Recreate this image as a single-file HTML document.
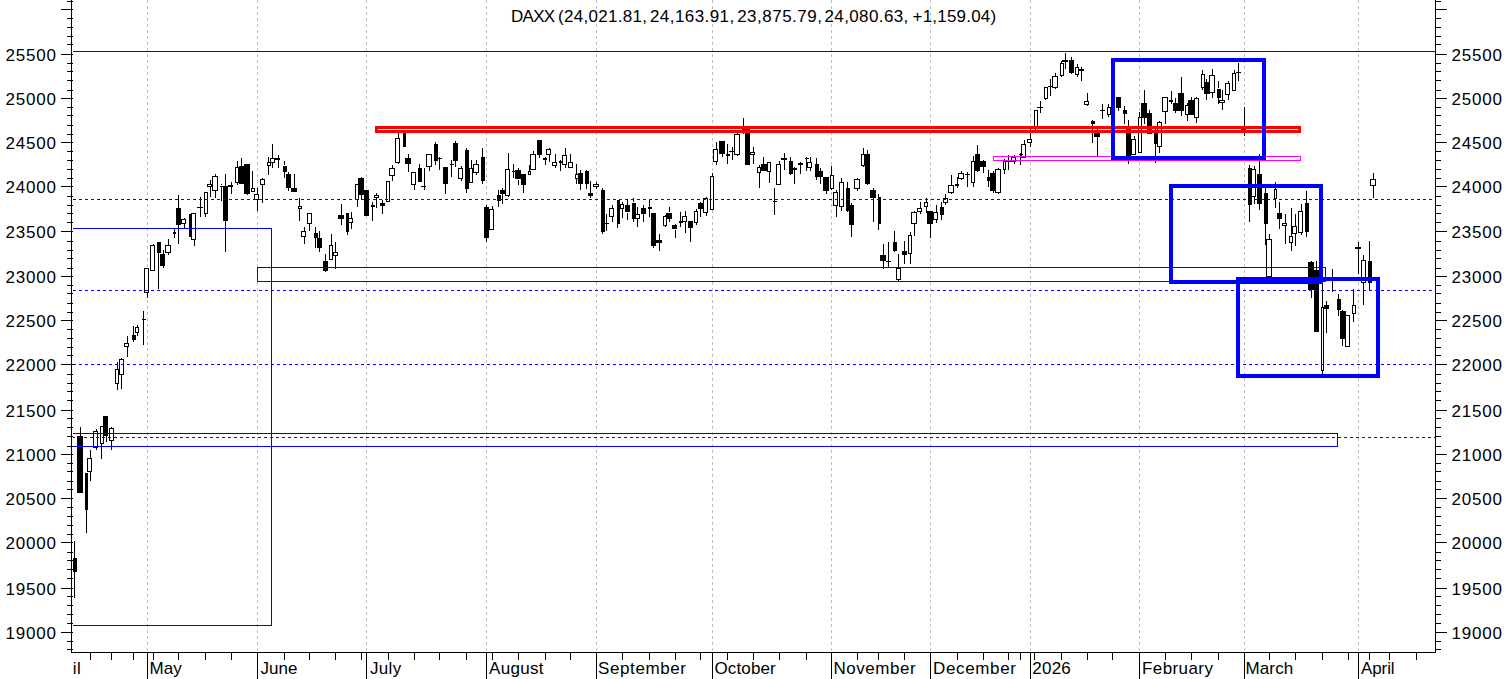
<!DOCTYPE html><html><head><meta charset="utf-8"><title>DAXX</title>
<style>html,body{margin:0;padding:0;background:#fff;overflow:hidden}svg{display:block;position:absolute;left:0;top:0}text{font-family:"Liberation Sans",sans-serif;font-size:17px;fill:#000}</style></head><body>
<svg width="1506" height="679" viewBox="0 0 1506 679" shape-rendering="crispEdges">
<rect x="0" y="0" width="1506" height="679" fill="#fff"/>
<line x1="147.5" y1="0" x2="147.5" y2="652" stroke="#c0c0c0" stroke-width="1" stroke-dasharray="3 3"/>
<line x1="257.5" y1="0" x2="257.5" y2="652" stroke="#c0c0c0" stroke-width="1" stroke-dasharray="3 3"/>
<line x1="366.5" y1="0" x2="366.5" y2="652" stroke="#c0c0c0" stroke-width="1" stroke-dasharray="3 3"/>
<line x1="486.5" y1="0" x2="486.5" y2="652" stroke="#c0c0c0" stroke-width="1" stroke-dasharray="3 3"/>
<line x1="596.5" y1="0" x2="596.5" y2="652" stroke="#c0c0c0" stroke-width="1" stroke-dasharray="3 3"/>
<line x1="712.5" y1="0" x2="712.5" y2="652" stroke="#c0c0c0" stroke-width="1" stroke-dasharray="3 3"/>
<line x1="831.5" y1="0" x2="831.5" y2="652" stroke="#c0c0c0" stroke-width="1" stroke-dasharray="3 3"/>
<line x1="930.5" y1="0" x2="930.5" y2="652" stroke="#c0c0c0" stroke-width="1" stroke-dasharray="3 3"/>
<line x1="1030.5" y1="0" x2="1030.5" y2="652" stroke="#c0c0c0" stroke-width="1" stroke-dasharray="3 3"/>
<line x1="1139.5" y1="0" x2="1139.5" y2="652" stroke="#c0c0c0" stroke-width="1" stroke-dasharray="3 3"/>
<line x1="1244.5" y1="0" x2="1244.5" y2="652" stroke="#c0c0c0" stroke-width="1" stroke-dasharray="3 3"/>
<line x1="1358.5" y1="0" x2="1358.5" y2="652" stroke="#c0c0c0" stroke-width="1" stroke-dasharray="3 3"/>
<g id="candles">
<rect x="74" y="541" width="1" height="57" fill="#000"/><rect x="73" y="558" width="4" height="14" fill="#000"/>
<rect x="80" y="427" width="1" height="66" fill="#000"/><rect x="77" y="436" width="6" height="57" fill="#000"/>
<rect x="86" y="473" width="1" height="60" fill="#000"/><rect x="85" y="473" width="3" height="37" fill="#000"/>
<rect x="90" y="450" width="1" height="31" fill="#000"/><rect x="87" y="458" width="5" height="14" fill="#000"/><rect x="88" y="459" width="3" height="12" fill="#fff"/>
<rect x="96" y="429" width="1" height="21" fill="#000"/><rect x="93" y="431" width="5" height="17" fill="#000"/><rect x="94" y="432" width="3" height="15" fill="#fff"/>
<rect x="101" y="426" width="1" height="33" fill="#000"/><rect x="100" y="426" width="4" height="18" fill="#000"/><rect x="101" y="427" width="2" height="16" fill="#fff"/>
<rect x="106" y="416" width="1" height="26" fill="#000"/><rect x="103" y="416" width="5" height="20" fill="#000"/>
<rect x="111" y="427" width="1" height="23" fill="#000"/><rect x="109" y="428" width="5" height="13" fill="#000"/><rect x="110" y="429" width="3" height="11" fill="#fff"/>
<rect x="117" y="362" width="1" height="28" fill="#000"/><rect x="115" y="369" width="4" height="15" fill="#000"/><rect x="116" y="370" width="2" height="13" fill="#fff"/>
<rect x="121" y="358" width="1" height="31" fill="#000"/><rect x="119" y="359" width="5" height="16" fill="#000"/><rect x="120" y="360" width="3" height="14" fill="#fff"/>
<rect x="127" y="336" width="1" height="21" fill="#000"/><rect x="124" y="343" width="5" height="4" fill="#000"/><rect x="125" y="344" width="3" height="2" fill="#fff"/>
<rect x="133" y="326" width="1" height="16" fill="#000"/><rect x="132" y="335" width="4" height="5" fill="#000"/>
<rect x="137" y="325" width="1" height="11" fill="#000"/><rect x="135" y="327" width="4" height="6" fill="#000"/><rect x="136" y="328" width="2" height="4" fill="#fff"/>
<rect x="143" y="311" width="1" height="34" fill="#000"/><rect x="142" y="319" width="4" height="1" fill="#000"/>
<rect x="147" y="268" width="1" height="30" fill="#000"/><rect x="144" y="268" width="5" height="25" fill="#000"/><rect x="145" y="269" width="3" height="23" fill="#fff"/>
<rect x="153" y="244" width="1" height="27" fill="#000"/><rect x="150" y="245" width="5" height="26" fill="#000"/><rect x="151" y="246" width="3" height="24" fill="#fff"/>
<rect x="158" y="242" width="1" height="47" fill="#000"/><rect x="157" y="242" width="4" height="11" fill="#000"/>
<rect x="163" y="250" width="1" height="18" fill="#000"/><rect x="160" y="254" width="5" height="12" fill="#000"/>
<rect x="168" y="239" width="1" height="16" fill="#000"/><rect x="165" y="245" width="6" height="8" fill="#000"/><rect x="166" y="246" width="4" height="6" fill="#fff"/>
<rect x="174" y="229" width="1" height="9" fill="#000"/><rect x="173" y="232" width="3" height="2" fill="#000"/>
<rect x="178" y="195" width="1" height="49" fill="#000"/><rect x="176" y="208" width="5" height="17" fill="#000"/>
<rect x="184" y="218" width="1" height="10" fill="#000"/><rect x="181" y="219" width="5" height="5" fill="#000"/><rect x="182" y="220" width="3" height="3" fill="#fff"/>
<rect x="190" y="214" width="1" height="23" fill="#000"/><rect x="189" y="214" width="4" height="23" fill="#000"/>
<rect x="194" y="213" width="1" height="33" fill="#000"/><rect x="191" y="213" width="5" height="27" fill="#000"/><rect x="192" y="214" width="3" height="25" fill="#fff"/>
<rect x="200" y="197" width="1" height="20" fill="#000"/><rect x="197" y="207" width="6" height="1" fill="#000"/>
<rect x="205" y="192" width="1" height="25" fill="#000"/><rect x="204" y="192" width="4" height="22" fill="#000"/><rect x="205" y="193" width="2" height="20" fill="#fff"/>
<rect x="210" y="180" width="1" height="17" fill="#000"/><rect x="207" y="184" width="5" height="3" fill="#000"/><rect x="208" y="185" width="3" height="1" fill="#fff"/>
<rect x="215" y="174" width="1" height="24" fill="#000"/><rect x="212" y="176" width="6" height="15" fill="#000"/><rect x="213" y="177" width="4" height="13" fill="#fff"/>
<rect x="221" y="184" width="1" height="17" fill="#000"/><rect x="220" y="186" width="3" height="1" fill="#000"/>
<rect x="225" y="174" width="1" height="78" fill="#000"/><rect x="223" y="186" width="5" height="35" fill="#000"/>
<rect x="231" y="182" width="1" height="12" fill="#000"/><rect x="228" y="185" width="5" height="2" fill="#000"/>
<rect x="237" y="161" width="1" height="24" fill="#000"/><rect x="235" y="167" width="4" height="16" fill="#000"/><rect x="236" y="168" width="2" height="14" fill="#fff"/>
<rect x="241" y="158" width="1" height="26" fill="#000"/><rect x="239" y="166" width="5" height="18" fill="#000"/>
<rect x="247" y="164" width="1" height="31" fill="#000"/><rect x="244" y="164" width="6" height="30" fill="#000"/>
<rect x="252" y="171" width="1" height="21" fill="#000"/><rect x="251" y="188" width="4" height="4" fill="#000"/><rect x="252" y="189" width="2" height="2" fill="#fff"/>
<rect x="257" y="188" width="1" height="23" fill="#000"/><rect x="254" y="194" width="5" height="6" fill="#000"/><rect x="255" y="195" width="3" height="4" fill="#fff"/>
<rect x="262" y="178" width="1" height="25" fill="#000"/><rect x="260" y="179" width="5" height="6" fill="#000"/><rect x="261" y="180" width="3" height="4" fill="#fff"/>
<rect x="268" y="157" width="1" height="18" fill="#000"/><rect x="267" y="162" width="4" height="4" fill="#000"/><rect x="268" y="163" width="2" height="2" fill="#fff"/>
<rect x="272" y="144" width="1" height="24" fill="#000"/><rect x="270" y="158" width="5" height="5" fill="#000"/><rect x="271" y="159" width="3" height="3" fill="#fff"/>
<rect x="278" y="155" width="1" height="13" fill="#000"/><rect x="275" y="158" width="5" height="2" fill="#000"/>
<rect x="284" y="161" width="1" height="17" fill="#000"/><rect x="283" y="166" width="4" height="6" fill="#000"/>
<rect x="288" y="172" width="1" height="19" fill="#000"/><rect x="286" y="174" width="5" height="14" fill="#000"/>
<rect x="294" y="174" width="1" height="18" fill="#000"/><rect x="291" y="188" width="6" height="4" fill="#000"/>
<rect x="299" y="198" width="1" height="23" fill="#000"/><rect x="298" y="206" width="4" height="3" fill="#000"/><rect x="299" y="207" width="2" height="1" fill="#fff"/>
<rect x="304" y="227" width="1" height="17" fill="#000"/><rect x="301" y="231" width="5" height="6" fill="#000"/><rect x="302" y="232" width="3" height="4" fill="#fff"/>
<rect x="309" y="213" width="1" height="18" fill="#000"/><rect x="307" y="213" width="5" height="11" fill="#000"/><rect x="308" y="214" width="3" height="9" fill="#fff"/>
<rect x="315" y="227" width="1" height="21" fill="#000"/><rect x="314" y="233" width="4" height="5" fill="#000"/>
<rect x="319" y="231" width="1" height="21" fill="#000"/><rect x="317" y="238" width="5" height="10" fill="#000"/>
<rect x="325" y="254" width="1" height="18" fill="#000"/><rect x="323" y="261" width="5" height="10" fill="#000"/>
<rect x="331" y="234" width="1" height="26" fill="#000"/><rect x="329" y="245" width="4" height="15" fill="#000"/><rect x="330" y="246" width="2" height="13" fill="#fff"/>
<rect x="335" y="242" width="1" height="27" fill="#000"/><rect x="333" y="252" width="5" height="4" fill="#000"/><rect x="334" y="253" width="3" height="2" fill="#fff"/>
<rect x="341" y="204" width="1" height="21" fill="#000"/><rect x="338" y="215" width="6" height="4" fill="#000"/>
<rect x="347" y="213" width="1" height="22" fill="#000"/><rect x="346" y="213" width="3" height="19" fill="#000"/>
<rect x="351" y="212" width="1" height="17" fill="#000"/><rect x="348" y="218" width="5" height="5" fill="#000"/><rect x="349" y="219" width="3" height="3" fill="#fff"/>
<rect x="357" y="184" width="1" height="23" fill="#000"/><rect x="355" y="184" width="4" height="16" fill="#000"/><rect x="356" y="185" width="2" height="14" fill="#fff"/>
<rect x="361" y="177" width="1" height="23" fill="#000"/><rect x="358" y="178" width="6" height="17" fill="#000"/>
<rect x="366" y="190" width="1" height="26" fill="#000"/><rect x="364" y="190" width="5" height="26" fill="#000"/>
<rect x="372" y="202" width="1" height="19" fill="#000"/><rect x="371" y="205" width="4" height="2" fill="#000"/>
<rect x="376" y="193" width="1" height="15" fill="#000"/><rect x="374" y="195" width="5" height="3" fill="#000"/><rect x="375" y="196" width="3" height="1" fill="#fff"/>
<rect x="382" y="200" width="1" height="14" fill="#000"/><rect x="380" y="203" width="5" height="3" fill="#000"/>
<rect x="388" y="181" width="1" height="21" fill="#000"/><rect x="386" y="181" width="4" height="21" fill="#000"/><rect x="387" y="182" width="2" height="19" fill="#fff"/>
<rect x="392" y="165" width="1" height="16" fill="#000"/><rect x="389" y="168" width="6" height="8" fill="#000"/><rect x="390" y="169" width="4" height="6" fill="#fff"/>
<rect x="398" y="131" width="1" height="33" fill="#000"/><rect x="395" y="138" width="5" height="25" fill="#000"/><rect x="396" y="139" width="3" height="23" fill="#fff"/>
<rect x="404" y="131" width="1" height="16" fill="#000"/><rect x="403" y="131" width="3" height="16" fill="#000"/>
<rect x="408" y="154" width="1" height="18" fill="#000"/><rect x="405" y="158" width="6" height="6" fill="#000"/>
<rect x="414" y="172" width="1" height="18" fill="#000"/><rect x="411" y="172" width="5" height="13" fill="#000"/><rect x="412" y="173" width="3" height="11" fill="#fff"/>
<rect x="419" y="164" width="1" height="18" fill="#000"/><rect x="418" y="168" width="4" height="14" fill="#000"/>
<rect x="424" y="168" width="1" height="22" fill="#000"/><rect x="421" y="186" width="5" height="1" fill="#000"/>
<rect x="429" y="154" width="1" height="17" fill="#000"/><rect x="426" y="154" width="6" height="13" fill="#000"/><rect x="427" y="155" width="4" height="11" fill="#fff"/>
<rect x="435" y="142" width="1" height="23" fill="#000"/><rect x="434" y="144" width="4" height="17" fill="#000"/>
<rect x="439" y="157" width="1" height="13" fill="#000"/><rect x="438" y="158" width="4" height="1" fill="#000"/>
<rect x="445" y="167" width="1" height="27" fill="#000"/><rect x="443" y="167" width="5" height="17" fill="#000"/>
<rect x="451" y="160" width="1" height="17" fill="#000"/><rect x="450" y="164" width="4" height="1" fill="#000"/>
<rect x="455" y="141" width="1" height="26" fill="#000"/><rect x="453" y="143" width="5" height="18" fill="#000"/>
<rect x="461" y="166" width="1" height="15" fill="#000"/><rect x="458" y="168" width="5" height="11" fill="#000"/><rect x="459" y="169" width="3" height="9" fill="#fff"/>
<rect x="466" y="148" width="1" height="45" fill="#000"/><rect x="465" y="150" width="4" height="39" fill="#000"/>
<rect x="471" y="160" width="1" height="23" fill="#000"/><rect x="469" y="168" width="4" height="15" fill="#000"/><rect x="470" y="169" width="2" height="13" fill="#fff"/>
<rect x="476" y="160" width="1" height="15" fill="#000"/><rect x="473" y="164" width="6" height="9" fill="#000"/><rect x="474" y="165" width="4" height="7" fill="#fff"/>
<rect x="482" y="148" width="1" height="36" fill="#000"/><rect x="481" y="157" width="4" height="24" fill="#000"/>
<rect x="486" y="205" width="1" height="37" fill="#000"/><rect x="484" y="207" width="5" height="31" fill="#000"/>
<rect x="492" y="206" width="1" height="24" fill="#000"/><rect x="489" y="209" width="5" height="21" fill="#000"/><rect x="490" y="210" width="3" height="19" fill="#fff"/>
<rect x="498" y="190" width="1" height="17" fill="#000"/><rect x="497" y="195" width="4" height="6" fill="#000"/>
<rect x="502" y="188" width="1" height="16" fill="#000"/><rect x="500" y="190" width="5" height="4" fill="#000"/>
<rect x="508" y="153" width="1" height="44" fill="#000"/><rect x="505" y="169" width="5" height="27" fill="#000"/><rect x="506" y="170" width="3" height="25" fill="#fff"/>
<rect x="513" y="164" width="1" height="14" fill="#000"/><rect x="512" y="171" width="4" height="1" fill="#000"/>
<rect x="518" y="168" width="1" height="17" fill="#000"/><rect x="515" y="170" width="6" height="9" fill="#000"/>
<rect x="523" y="174" width="1" height="19" fill="#000"/><rect x="521" y="174" width="5" height="11" fill="#000"/>
<rect x="529" y="165" width="1" height="10" fill="#000"/><rect x="528" y="171" width="3" height="4" fill="#000"/><rect x="529" y="172" width="1" height="2" fill="#fff"/>
<rect x="533" y="151" width="1" height="19" fill="#000"/><rect x="530" y="154" width="6" height="16" fill="#000"/><rect x="531" y="155" width="4" height="14" fill="#fff"/>
<rect x="539" y="140" width="1" height="18" fill="#000"/><rect x="537" y="140" width="5" height="15" fill="#000"/>
<rect x="545" y="157" width="1" height="8" fill="#000"/><rect x="543" y="158" width="4" height="2" fill="#000"/>
<rect x="549" y="148" width="1" height="14" fill="#000"/><rect x="546" y="149" width="5" height="6" fill="#000"/><rect x="547" y="150" width="3" height="4" fill="#fff"/>
<rect x="555" y="154" width="1" height="14" fill="#000"/><rect x="552" y="162" width="5" height="4" fill="#000"/><rect x="553" y="163" width="3" height="2" fill="#fff"/>
<rect x="560" y="160" width="1" height="11" fill="#000"/><rect x="559" y="161" width="3" height="2" fill="#000"/>
<rect x="565" y="148" width="1" height="20" fill="#000"/><rect x="562" y="155" width="5" height="10" fill="#000"/><rect x="563" y="156" width="3" height="8" fill="#fff"/>
<rect x="570" y="154" width="1" height="14" fill="#000"/><rect x="568" y="162" width="5" height="6" fill="#000"/><rect x="569" y="163" width="3" height="4" fill="#fff"/>
<rect x="576" y="164" width="1" height="20" fill="#000"/><rect x="575" y="174" width="4" height="5" fill="#000"/><rect x="576" y="175" width="2" height="3" fill="#fff"/>
<rect x="580" y="170" width="1" height="20" fill="#000"/><rect x="578" y="173" width="5" height="11" fill="#000"/>
<rect x="586" y="170" width="1" height="19" fill="#000"/><rect x="585" y="171" width="4" height="13" fill="#000"/>
<rect x="590" y="181" width="1" height="17" fill="#000"/><rect x="588" y="193" width="5" height="3" fill="#000"/>
<rect x="596" y="182" width="1" height="7" fill="#000"/><rect x="593" y="184" width="6" height="3" fill="#000"/><rect x="594" y="185" width="4" height="1" fill="#fff"/>
<rect x="602" y="188" width="1" height="46" fill="#000"/><rect x="601" y="190" width="4" height="42" fill="#000"/>
<rect x="606" y="214" width="1" height="17" fill="#000"/><rect x="605" y="223" width="4" height="1" fill="#000"/>
<rect x="612" y="205" width="1" height="17" fill="#000"/><rect x="609" y="208" width="5" height="9" fill="#000"/><rect x="610" y="209" width="3" height="7" fill="#fff"/>
<rect x="617" y="200" width="1" height="28" fill="#000"/><rect x="617" y="200" width="3" height="24" fill="#000"/>
<rect x="622" y="202" width="1" height="16" fill="#000"/><rect x="620" y="204" width="4" height="5" fill="#000"/><rect x="621" y="205" width="2" height="3" fill="#fff"/>
<rect x="627" y="199" width="1" height="21" fill="#000"/><rect x="625" y="205" width="5" height="7" fill="#000"/>
<rect x="633" y="198" width="1" height="24" fill="#000"/><rect x="632" y="203" width="4" height="16" fill="#000"/>
<rect x="637" y="207" width="1" height="20" fill="#000"/><rect x="635" y="214" width="5" height="5" fill="#000"/><rect x="636" y="215" width="3" height="3" fill="#fff"/>
<rect x="643" y="205" width="1" height="17" fill="#000"/><rect x="641" y="208" width="5" height="6" fill="#000"/>
<rect x="649" y="200" width="1" height="17" fill="#000"/><rect x="648" y="207" width="4" height="2" fill="#000"/>
<rect x="653" y="213" width="1" height="35" fill="#000"/><rect x="651" y="213" width="5" height="33" fill="#000"/>
<rect x="659" y="234" width="1" height="17" fill="#000"/><rect x="656" y="240" width="6" height="3" fill="#000"/>
<rect x="665" y="215" width="1" height="12" fill="#000"/><rect x="663" y="216" width="4" height="10" fill="#000"/><rect x="664" y="217" width="2" height="8" fill="#fff"/>
<rect x="669" y="207" width="1" height="15" fill="#000"/><rect x="666" y="213" width="6" height="6" fill="#000"/>
<rect x="675" y="224" width="1" height="14" fill="#000"/><rect x="672" y="225" width="5" height="4" fill="#000"/>
<rect x="680" y="212" width="1" height="15" fill="#000"/><rect x="679" y="221" width="4" height="2" fill="#000"/>
<rect x="685" y="211" width="1" height="22" fill="#000"/><rect x="682" y="216" width="5" height="6" fill="#000"/><rect x="683" y="217" width="3" height="4" fill="#fff"/>
<rect x="690" y="221" width="1" height="21" fill="#000"/><rect x="688" y="221" width="5" height="7" fill="#000"/>
<rect x="696" y="209" width="1" height="16" fill="#000"/><rect x="694" y="211" width="4" height="12" fill="#000"/><rect x="695" y="212" width="2" height="10" fill="#fff"/>
<rect x="700" y="202" width="1" height="15" fill="#000"/><rect x="698" y="203" width="6" height="6" fill="#000"/>
<rect x="706" y="197" width="1" height="19" fill="#000"/><rect x="703" y="198" width="5" height="15" fill="#000"/><rect x="704" y="199" width="3" height="13" fill="#fff"/>
<rect x="712" y="173" width="1" height="37" fill="#000"/><rect x="710" y="176" width="4" height="34" fill="#000"/><rect x="711" y="177" width="2" height="32" fill="#fff"/>
<rect x="716" y="142" width="1" height="23" fill="#000"/><rect x="713" y="149" width="5" height="13" fill="#000"/><rect x="714" y="150" width="3" height="11" fill="#fff"/>
<rect x="722" y="141" width="1" height="16" fill="#000"/><rect x="719" y="141" width="6" height="13" fill="#000"/>
<rect x="727" y="144" width="1" height="20" fill="#000"/><rect x="726" y="154" width="4" height="2" fill="#000"/>
<rect x="732" y="147" width="1" height="13" fill="#000"/><rect x="729" y="151" width="5" height="1" fill="#000"/>
<rect x="737" y="132" width="1" height="24" fill="#000"/><rect x="734" y="134" width="6" height="21" fill="#000"/><rect x="735" y="135" width="4" height="19" fill="#fff"/>
<rect x="743" y="118" width="1" height="16" fill="#000"/><rect x="742" y="127" width="4" height="4" fill="#000"/>
<rect x="747" y="128" width="1" height="37" fill="#000"/><rect x="745" y="128" width="5" height="37" fill="#000"/>
<rect x="753" y="147" width="1" height="17" fill="#000"/><rect x="750" y="152" width="5" height="3" fill="#000"/><rect x="751" y="153" width="3" height="1" fill="#fff"/>
<rect x="759" y="165" width="1" height="23" fill="#000"/><rect x="757" y="167" width="4" height="6" fill="#000"/><rect x="758" y="168" width="2" height="4" fill="#fff"/>
<rect x="763" y="157" width="1" height="14" fill="#000"/><rect x="761" y="164" width="6" height="7" fill="#000"/>
<rect x="769" y="162" width="1" height="21" fill="#000"/><rect x="767" y="162" width="4" height="10" fill="#000"/><rect x="768" y="163" width="2" height="8" fill="#fff"/>
<rect x="774" y="188" width="1" height="27" fill="#000"/><rect x="773" y="201" width="4" height="1" fill="#000"/>
<rect x="779" y="161" width="1" height="24" fill="#000"/><rect x="776" y="164" width="5" height="21" fill="#000"/><rect x="777" y="165" width="3" height="19" fill="#fff"/>
<rect x="784" y="153" width="1" height="17" fill="#000"/><rect x="781" y="158" width="6" height="2" fill="#000"/>
<rect x="790" y="157" width="1" height="18" fill="#000"/><rect x="789" y="161" width="4" height="13" fill="#000"/>
<rect x="794" y="167" width="1" height="17" fill="#000"/><rect x="793" y="168" width="4" height="2" fill="#000"/>
<rect x="800" y="162" width="1" height="12" fill="#000"/><rect x="798" y="163" width="5" height="2" fill="#000"/>
<rect x="806" y="157" width="1" height="14" fill="#000"/><rect x="805" y="158" width="4" height="1" fill="#000"/>
<rect x="810" y="157" width="1" height="14" fill="#000"/><rect x="807" y="162" width="5" height="6" fill="#000"/><rect x="808" y="163" width="3" height="4" fill="#fff"/>
<rect x="816" y="158" width="1" height="22" fill="#000"/><rect x="815" y="164" width="4" height="13" fill="#000"/>
<rect x="820" y="168" width="1" height="16" fill="#000"/><rect x="819" y="171" width="4" height="6" fill="#000"/>
<rect x="826" y="177" width="1" height="17" fill="#000"/><rect x="823" y="177" width="6" height="14" fill="#000"/>
<rect x="831" y="166" width="1" height="24" fill="#000"/><rect x="830" y="175" width="4" height="14" fill="#000"/><rect x="831" y="176" width="2" height="12" fill="#fff"/>
<rect x="836" y="190" width="1" height="27" fill="#000"/><rect x="833" y="192" width="5" height="14" fill="#000"/><rect x="834" y="193" width="3" height="12" fill="#fff"/>
<rect x="841" y="178" width="1" height="33" fill="#000"/><rect x="839" y="182" width="5" height="25" fill="#000"/><rect x="840" y="183" width="3" height="23" fill="#fff"/>
<rect x="847" y="182" width="1" height="30" fill="#000"/><rect x="846" y="188" width="4" height="23" fill="#000"/>
<rect x="851" y="203" width="1" height="34" fill="#000"/><rect x="849" y="205" width="5" height="20" fill="#000"/>
<rect x="857" y="178" width="1" height="13" fill="#000"/><rect x="854" y="179" width="6" height="10" fill="#000"/><rect x="855" y="180" width="4" height="8" fill="#fff"/>
<rect x="863" y="148" width="1" height="19" fill="#000"/><rect x="861" y="154" width="4" height="12" fill="#000"/><rect x="862" y="155" width="2" height="10" fill="#fff"/>
<rect x="867" y="150" width="1" height="35" fill="#000"/><rect x="865" y="154" width="5" height="30" fill="#000"/>
<rect x="873" y="188" width="1" height="34" fill="#000"/><rect x="870" y="190" width="6" height="8" fill="#000"/>
<rect x="878" y="194" width="1" height="36" fill="#000"/><rect x="878" y="197" width="3" height="27" fill="#000"/>
<rect x="883" y="244" width="1" height="25" fill="#000"/><rect x="880" y="255" width="6" height="6" fill="#000"/>
<rect x="888" y="242" width="1" height="26" fill="#000"/><rect x="886" y="261" width="5" height="1" fill="#000"/>
<rect x="894" y="231" width="1" height="21" fill="#000"/><rect x="893" y="242" width="4" height="9" fill="#000"/>
<rect x="898" y="254" width="1" height="27" fill="#000"/><rect x="896" y="268" width="5" height="12" fill="#000"/><rect x="897" y="269" width="3" height="10" fill="#fff"/>
<rect x="904" y="241" width="1" height="23" fill="#000"/><rect x="902" y="251" width="5" height="4" fill="#000"/>
<rect x="910" y="232" width="1" height="32" fill="#000"/><rect x="908" y="235" width="4" height="19" fill="#000"/><rect x="909" y="236" width="2" height="17" fill="#fff"/>
<rect x="914" y="211" width="1" height="25" fill="#000"/><rect x="911" y="212" width="6" height="12" fill="#000"/><rect x="912" y="213" width="4" height="10" fill="#fff"/>
<rect x="920" y="202" width="1" height="12" fill="#000"/><rect x="917" y="208" width="5" height="4" fill="#000"/><rect x="918" y="209" width="3" height="2" fill="#fff"/>
<rect x="926" y="198" width="1" height="15" fill="#000"/><rect x="924" y="202" width="4" height="5" fill="#000"/><rect x="925" y="203" width="2" height="3" fill="#fff"/>
<rect x="930" y="211" width="1" height="27" fill="#000"/><rect x="927" y="211" width="6" height="13" fill="#000"/>
<rect x="936" y="205" width="1" height="18" fill="#000"/><rect x="933" y="212" width="5" height="8" fill="#000"/><rect x="934" y="213" width="3" height="6" fill="#fff"/>
<rect x="941" y="202" width="1" height="18" fill="#000"/><rect x="940" y="207" width="4" height="8" fill="#000"/>
<rect x="945" y="194" width="1" height="11" fill="#000"/><rect x="943" y="198" width="5" height="5" fill="#000"/><rect x="944" y="199" width="3" height="3" fill="#fff"/>
<rect x="951" y="175" width="1" height="19" fill="#000"/><rect x="948" y="185" width="6" height="8" fill="#000"/><rect x="949" y="186" width="4" height="6" fill="#fff"/>
<rect x="957" y="177" width="1" height="11" fill="#000"/><rect x="955" y="184" width="4" height="2" fill="#000"/>
<rect x="961" y="171" width="1" height="9" fill="#000"/><rect x="958" y="173" width="6" height="6" fill="#000"/><rect x="959" y="174" width="4" height="4" fill="#fff"/>
<rect x="967" y="172" width="1" height="15" fill="#000"/><rect x="965" y="174" width="5" height="1" fill="#000"/>
<rect x="973" y="156" width="1" height="31" fill="#000"/><rect x="971" y="161" width="4" height="22" fill="#000"/><rect x="972" y="162" width="2" height="20" fill="#fff"/>
<rect x="977" y="145" width="1" height="27" fill="#000"/><rect x="975" y="154" width="5" height="17" fill="#000"/>
<rect x="983" y="160" width="1" height="13" fill="#000"/><rect x="980" y="161" width="6" height="6" fill="#000"/>
<rect x="988" y="170" width="1" height="17" fill="#000"/><rect x="987" y="177" width="4" height="4" fill="#000"/>
<rect x="993" y="171" width="1" height="22" fill="#000"/><rect x="990" y="173" width="5" height="18" fill="#000"/>
<rect x="998" y="168" width="1" height="26" fill="#000"/><rect x="995" y="169" width="6" height="24" fill="#000"/><rect x="996" y="170" width="4" height="22" fill="#fff"/>
<rect x="1004" y="159" width="1" height="15" fill="#000"/><rect x="1003" y="161" width="3" height="9" fill="#000"/><rect x="1004" y="162" width="1" height="7" fill="#fff"/>
<rect x="1008" y="155" width="1" height="15" fill="#000"/><rect x="1006" y="161" width="6" height="1" fill="#000"/>
<rect x="1014" y="155" width="1" height="9" fill="#000"/><rect x="1011" y="157" width="5" height="5" fill="#000"/><rect x="1012" y="158" width="3" height="3" fill="#fff"/>
<rect x="1020" y="153" width="1" height="12" fill="#000"/><rect x="1019" y="154" width="4" height="1" fill="#000"/>
<rect x="1024" y="140" width="1" height="18" fill="#000"/><rect x="1021" y="144" width="5" height="14" fill="#000"/><rect x="1022" y="145" width="3" height="12" fill="#fff"/>
<rect x="1030" y="127" width="1" height="20" fill="#000"/><rect x="1027" y="139" width="5" height="4" fill="#000"/><rect x="1028" y="140" width="3" height="2" fill="#fff"/>
<rect x="1035" y="110" width="1" height="21" fill="#000"/><rect x="1034" y="110" width="4" height="17" fill="#000"/><rect x="1035" y="111" width="2" height="15" fill="#fff"/>
<rect x="1040" y="101" width="1" height="12" fill="#000"/><rect x="1037" y="107" width="6" height="1" fill="#000"/>
<rect x="1045" y="87" width="1" height="13" fill="#000"/><rect x="1044" y="87" width="4" height="12" fill="#000"/><rect x="1045" y="88" width="2" height="10" fill="#fff"/>
<rect x="1050" y="79" width="1" height="17" fill="#000"/><rect x="1048" y="86" width="5" height="1" fill="#000"/>
<rect x="1055" y="73" width="1" height="16" fill="#000"/><rect x="1052" y="76" width="6" height="12" fill="#000"/><rect x="1053" y="77" width="4" height="10" fill="#fff"/>
<rect x="1061" y="61" width="1" height="16" fill="#000"/><rect x="1060" y="63" width="4" height="13" fill="#000"/><rect x="1061" y="64" width="2" height="11" fill="#fff"/>
<rect x="1065" y="53" width="1" height="16" fill="#000"/><rect x="1062" y="60" width="6" height="2" fill="#000"/>
<rect x="1071" y="57" width="1" height="17" fill="#000"/><rect x="1069" y="60" width="5" height="13" fill="#000"/>
<rect x="1077" y="64" width="1" height="13" fill="#000"/><rect x="1075" y="67" width="4" height="8" fill="#000"/><rect x="1076" y="68" width="2" height="6" fill="#fff"/>
<rect x="1081" y="67" width="1" height="14" fill="#000"/><rect x="1079" y="69" width="5" height="2" fill="#000"/>
<rect x="1087" y="93" width="1" height="13" fill="#000"/><rect x="1084" y="101" width="5" height="4" fill="#000"/><rect x="1085" y="102" width="3" height="2" fill="#fff"/>
<rect x="1092" y="120" width="1" height="23" fill="#000"/><rect x="1091" y="121" width="4" height="3" fill="#000"/>
<rect x="1097" y="127" width="1" height="29" fill="#000"/><rect x="1094" y="132" width="6" height="5" fill="#000"/>
<rect x="1102" y="104" width="1" height="15" fill="#000"/><rect x="1100" y="110" width="5" height="1" fill="#000"/>
<rect x="1108" y="104" width="1" height="13" fill="#000"/><rect x="1107" y="107" width="4" height="8" fill="#000"/><rect x="1108" y="108" width="2" height="6" fill="#fff"/>
<rect x="1118" y="97" width="1" height="14" fill="#000"/><rect x="1116" y="97" width="5" height="11" fill="#000"/>
<rect x="1124" y="106" width="1" height="18" fill="#000"/><rect x="1123" y="110" width="4" height="4" fill="#000"/>
<rect x="1128" y="120" width="1" height="44" fill="#000"/><rect x="1126" y="128" width="5" height="28" fill="#000"/>
<rect x="1134" y="136" width="1" height="19" fill="#000"/><rect x="1131" y="139" width="5" height="16" fill="#000"/><rect x="1132" y="140" width="3" height="14" fill="#fff"/>
<rect x="1139" y="112" width="1" height="41" fill="#000"/><rect x="1138" y="117" width="4" height="36" fill="#000"/><rect x="1139" y="118" width="2" height="34" fill="#fff"/>
<rect x="1144" y="90" width="1" height="34" fill="#000"/><rect x="1141" y="103" width="6" height="15" fill="#000"/>
<rect x="1149" y="110" width="1" height="24" fill="#000"/><rect x="1147" y="113" width="5" height="21" fill="#000"/>
<rect x="1155" y="128" width="1" height="35" fill="#000"/><rect x="1154" y="131" width="4" height="13" fill="#000"/>
<rect x="1159" y="121" width="1" height="32" fill="#000"/><rect x="1157" y="122" width="5" height="25" fill="#000"/><rect x="1158" y="123" width="3" height="23" fill="#fff"/>
<rect x="1165" y="97" width="1" height="27" fill="#000"/><rect x="1162" y="97" width="6" height="15" fill="#000"/><rect x="1163" y="98" width="4" height="13" fill="#fff"/>
<rect x="1171" y="91" width="1" height="13" fill="#000"/><rect x="1169" y="100" width="4" height="2" fill="#000"/>
<rect x="1175" y="98" width="1" height="15" fill="#000"/><rect x="1173" y="103" width="5" height="8" fill="#000"/>
<rect x="1181" y="77" width="1" height="39" fill="#000"/><rect x="1178" y="93" width="6" height="18" fill="#000"/>
<rect x="1187" y="103" width="1" height="18" fill="#000"/><rect x="1185" y="105" width="4" height="10" fill="#000"/><rect x="1186" y="106" width="2" height="8" fill="#fff"/>
<rect x="1191" y="97" width="1" height="19" fill="#000"/><rect x="1188" y="100" width="6" height="15" fill="#000"/>
<rect x="1196" y="97" width="1" height="26" fill="#000"/><rect x="1194" y="98" width="5" height="20" fill="#000"/><rect x="1195" y="99" width="3" height="18" fill="#fff"/>
<rect x="1202" y="70" width="1" height="20" fill="#000"/><rect x="1201" y="74" width="4" height="14" fill="#000"/><rect x="1202" y="75" width="2" height="12" fill="#fff"/>
<rect x="1206" y="79" width="1" height="21" fill="#000"/><rect x="1204" y="82" width="6" height="12" fill="#000"/>
<rect x="1212" y="69" width="1" height="29" fill="#000"/><rect x="1209" y="75" width="6" height="18" fill="#000"/><rect x="1210" y="76" width="4" height="16" fill="#fff"/>
<rect x="1218" y="81" width="1" height="23" fill="#000"/><rect x="1217" y="89" width="4" height="9" fill="#000"/>
<rect x="1222" y="90" width="1" height="20" fill="#000"/><rect x="1219" y="100" width="6" height="3" fill="#000"/><rect x="1220" y="101" width="4" height="1" fill="#fff"/>
<rect x="1228" y="81" width="1" height="19" fill="#000"/><rect x="1225" y="83" width="5" height="12" fill="#000"/><rect x="1226" y="84" width="3" height="10" fill="#fff"/>
<rect x="1234" y="70" width="1" height="21" fill="#000"/><rect x="1232" y="73" width="4" height="18" fill="#000"/><rect x="1233" y="74" width="2" height="16" fill="#fff"/>
<rect x="1238" y="63" width="1" height="18" fill="#000"/><rect x="1236" y="72" width="5" height="1" fill="#000"/>
<rect x="1244" y="107" width="1" height="29" fill="#000"/><rect x="1241" y="128" width="5" height="3" fill="#000"/>
<rect x="1249" y="165" width="1" height="57" fill="#000"/><rect x="1248" y="168" width="4" height="37" fill="#000"/>
<rect x="1254" y="166" width="1" height="38" fill="#000"/><rect x="1251" y="169" width="5" height="28" fill="#000"/><rect x="1252" y="170" width="3" height="26" fill="#fff"/>
<rect x="1259" y="154" width="1" height="56" fill="#000"/><rect x="1257" y="174" width="5" height="30" fill="#000"/>
<rect x="1265" y="186" width="1" height="59" fill="#000"/><rect x="1264" y="193" width="4" height="31" fill="#000"/>
<rect x="1269" y="234" width="1" height="49" fill="#000"/><rect x="1266" y="239" width="6" height="38" fill="#000"/><rect x="1267" y="240" width="4" height="36" fill="#fff"/>
<rect x="1275" y="182" width="1" height="26" fill="#000"/><rect x="1274" y="189" width="3" height="10" fill="#000"/><rect x="1275" y="190" width="1" height="8" fill="#fff"/>
<rect x="1279" y="202" width="1" height="27" fill="#000"/><rect x="1277" y="213" width="5" height="6" fill="#000"/>
<rect x="1285" y="214" width="1" height="30" fill="#000"/><rect x="1282" y="223" width="5" height="3" fill="#000"/><rect x="1283" y="224" width="3" height="1" fill="#fff"/>
<rect x="1291" y="208" width="1" height="43" fill="#000"/><rect x="1289" y="236" width="4" height="7" fill="#000"/><rect x="1290" y="237" width="2" height="5" fill="#fff"/>
<rect x="1295" y="214" width="1" height="32" fill="#000"/><rect x="1292" y="226" width="5" height="8" fill="#000"/><rect x="1293" y="227" width="3" height="6" fill="#fff"/>
<rect x="1301" y="204" width="1" height="31" fill="#000"/><rect x="1298" y="211" width="5" height="22" fill="#000"/><rect x="1299" y="212" width="3" height="20" fill="#fff"/>
<rect x="1306" y="191" width="1" height="46" fill="#000"/><rect x="1305" y="203" width="4" height="29" fill="#000"/>
<rect x="1311" y="261" width="1" height="37" fill="#000"/><rect x="1308" y="262" width="6" height="28" fill="#000"/>
<rect x="1316" y="261" width="1" height="71" fill="#000"/><rect x="1314" y="270" width="5" height="62" fill="#000"/>
<rect x="1322" y="283" width="1" height="91" fill="#000"/><rect x="1321" y="307" width="3" height="64" fill="#000"/><rect x="1322" y="308" width="1" height="62" fill="#fff"/>
<rect x="1326" y="301" width="1" height="32" fill="#000"/><rect x="1324" y="305" width="5" height="4" fill="#000"/>
<rect x="1332" y="269" width="1" height="23" fill="#000"/><rect x="1332" y="278" width="1" height="1" fill="#000"/>
<rect x="1338" y="294" width="1" height="22" fill="#000"/><rect x="1337" y="299" width="4" height="11" fill="#000"/>
<rect x="1342" y="310" width="1" height="36" fill="#000"/><rect x="1340" y="311" width="6" height="28" fill="#000"/>
<rect x="1347" y="315" width="1" height="32" fill="#000"/><rect x="1345" y="315" width="5" height="32" fill="#000"/><rect x="1346" y="316" width="3" height="30" fill="#fff"/>
<rect x="1353" y="289" width="1" height="33" fill="#000"/><rect x="1352" y="305" width="4" height="9" fill="#000"/><rect x="1353" y="306" width="2" height="7" fill="#fff"/>
<rect x="1358" y="242" width="1" height="32" fill="#000"/><rect x="1355" y="247" width="6" height="2" fill="#000"/>
<rect x="1363" y="255" width="1" height="50" fill="#000"/><rect x="1361" y="260" width="5" height="23" fill="#000"/><rect x="1362" y="261" width="3" height="21" fill="#fff"/>
<rect x="1369" y="241" width="1" height="49" fill="#000"/><rect x="1368" y="261" width="4" height="22" fill="#000"/>
<rect x="1373" y="173" width="1" height="25" fill="#000"/><rect x="1370" y="179" width="6" height="7" fill="#000"/><rect x="1371" y="180" width="4" height="5" fill="#fff"/>
<rect x="1022" y="154" width="1" height="1" fill="#000"/>
<rect x="1191" y="115" width="1" height="1" fill="#fff"/>
<rect x="221" y="185" width="1" height="1" fill="#fff"/>
<rect x="284" y="165" width="1" height="1" fill="#fff"/>
<rect x="518" y="179" width="1" height="1" fill="#fff"/>
<rect x="627" y="212" width="1" height="1" fill="#fff"/>
<rect x="669" y="212" width="1" height="1" fill="#fff"/>
<rect x="675" y="229" width="1" height="1" fill="#fff"/>
<rect x="633" y="202" width="1" height="1" fill="#fff"/>
<rect x="1218" y="88" width="1" height="1" fill="#fff"/>
</g>
<line x1="73" y1="199.5" x2="1435" y2="199.5" stroke="#00f" stroke-width="1" stroke-dasharray="3 3"/>
<line x1="73" y1="290.5" x2="1435" y2="290.5" stroke="#00f" stroke-width="1" stroke-dasharray="3 3"/>
<line x1="73" y1="364.5" x2="1435" y2="364.5" stroke="#00f" stroke-width="1" stroke-dasharray="3 3"/>
<line x1="73" y1="437.5" x2="1435" y2="437.5" stroke="#00f" stroke-width="1" stroke-dasharray="3 3" stroke-dashoffset="1"/>
<rect x="73" y="51" width="1362" height="1" fill="#00f"/>
<rect x="73" y="228" width="199" height="1" fill="#00f"/>
<rect x="73" y="625" width="199" height="1" fill="#00f"/>
<rect x="271" y="228" width="1" height="398" fill="#00f"/>
<rect x="257" y="267" width="1069" height="1" fill="#00f"/>
<rect x="257" y="281" width="1069" height="1" fill="#00f"/>
<rect x="1325" y="267" width="1" height="15" fill="#00f"/>
<rect x="257" y="267" width="1" height="15" fill="#00f"/>
<rect x="73" y="433" width="1265" height="1" fill="#00f"/>
<rect x="73" y="446" width="1265" height="1" fill="#00f"/>
<rect x="1337" y="433" width="1" height="14" fill="#00f"/>
<rect x="993" y="156" width="308" height="1" fill="#f0f"/>
<rect x="993" y="160" width="308" height="1" fill="#f0f"/>
<rect x="1300" y="156" width="1" height="5" fill="#f0f"/>
<rect x="993" y="156" width="1" height="5" fill="#f0f"/>
<rect x="376.5" y="127.5" width="923" height="4" fill="none" stroke="#f00" stroke-width="3"/>
<rect x="1113" y="60" width="151" height="98" fill="none" stroke="#00f" stroke-width="4"/>
<rect x="1171" y="186" width="150" height="96" fill="none" stroke="#00f" stroke-width="4"/>
<rect x="1238" y="279" width="140" height="97" fill="none" stroke="#00f" stroke-width="4"/>
<rect x="71" y="0" width="1" height="653" fill="#000"/>
<rect x="1435" y="0" width="1" height="653" fill="#000"/>
<rect x="72" y="652" width="1364" height="1" fill="#000"/>
<rect x="67" y="1" width="6" height="1" fill="#000"/>
<rect x="1435" y="1" width="6" height="1" fill="#000"/>
<rect x="61" y="9" width="12" height="1" fill="#000"/>
<rect x="1435" y="9" width="12" height="1" fill="#000"/>
<rect x="67" y="18" width="6" height="1" fill="#000"/>
<rect x="1435" y="18" width="6" height="1" fill="#000"/>
<rect x="67" y="27" width="6" height="1" fill="#000"/>
<rect x="1435" y="27" width="6" height="1" fill="#000"/>
<rect x="67" y="36" width="6" height="1" fill="#000"/>
<rect x="1435" y="36" width="6" height="1" fill="#000"/>
<rect x="67" y="44" width="6" height="1" fill="#000"/>
<rect x="1435" y="44" width="6" height="1" fill="#000"/>
<rect x="61" y="54" width="12" height="1" fill="#000"/>
<rect x="1435" y="54" width="12" height="1" fill="#000"/>
<rect x="67" y="63" width="6" height="1" fill="#000"/>
<rect x="1435" y="63" width="6" height="1" fill="#000"/>
<rect x="67" y="71" width="6" height="1" fill="#000"/>
<rect x="1435" y="71" width="6" height="1" fill="#000"/>
<rect x="67" y="80" width="6" height="1" fill="#000"/>
<rect x="1435" y="80" width="6" height="1" fill="#000"/>
<rect x="67" y="90" width="6" height="1" fill="#000"/>
<rect x="1435" y="90" width="6" height="1" fill="#000"/>
<rect x="61" y="98" width="12" height="1" fill="#000"/>
<rect x="1435" y="98" width="12" height="1" fill="#000"/>
<rect x="67" y="107" width="6" height="1" fill="#000"/>
<rect x="1435" y="107" width="6" height="1" fill="#000"/>
<rect x="67" y="115" width="6" height="1" fill="#000"/>
<rect x="1435" y="115" width="6" height="1" fill="#000"/>
<rect x="67" y="125" width="6" height="1" fill="#000"/>
<rect x="1435" y="125" width="6" height="1" fill="#000"/>
<rect x="67" y="134" width="6" height="1" fill="#000"/>
<rect x="1435" y="134" width="6" height="1" fill="#000"/>
<rect x="61" y="142" width="12" height="1" fill="#000"/>
<rect x="1435" y="142" width="12" height="1" fill="#000"/>
<rect x="67" y="151" width="6" height="1" fill="#000"/>
<rect x="1435" y="151" width="6" height="1" fill="#000"/>
<rect x="67" y="160" width="6" height="1" fill="#000"/>
<rect x="1435" y="160" width="6" height="1" fill="#000"/>
<rect x="67" y="169" width="6" height="1" fill="#000"/>
<rect x="1435" y="169" width="6" height="1" fill="#000"/>
<rect x="67" y="178" width="6" height="1" fill="#000"/>
<rect x="1435" y="178" width="6" height="1" fill="#000"/>
<rect x="61" y="186" width="12" height="1" fill="#000"/>
<rect x="1435" y="186" width="12" height="1" fill="#000"/>
<rect x="67" y="196" width="6" height="1" fill="#000"/>
<rect x="1435" y="196" width="6" height="1" fill="#000"/>
<rect x="67" y="205" width="6" height="1" fill="#000"/>
<rect x="1435" y="205" width="6" height="1" fill="#000"/>
<rect x="67" y="213" width="6" height="1" fill="#000"/>
<rect x="1435" y="213" width="6" height="1" fill="#000"/>
<rect x="67" y="222" width="6" height="1" fill="#000"/>
<rect x="1435" y="222" width="6" height="1" fill="#000"/>
<rect x="61" y="231" width="12" height="1" fill="#000"/>
<rect x="1435" y="231" width="12" height="1" fill="#000"/>
<rect x="67" y="241" width="6" height="1" fill="#000"/>
<rect x="1435" y="241" width="6" height="1" fill="#000"/>
<rect x="67" y="250" width="6" height="1" fill="#000"/>
<rect x="1435" y="250" width="6" height="1" fill="#000"/>
<rect x="67" y="258" width="6" height="1" fill="#000"/>
<rect x="1435" y="258" width="6" height="1" fill="#000"/>
<rect x="67" y="268" width="6" height="1" fill="#000"/>
<rect x="1435" y="268" width="6" height="1" fill="#000"/>
<rect x="61" y="276" width="12" height="1" fill="#000"/>
<rect x="1435" y="276" width="12" height="1" fill="#000"/>
<rect x="67" y="285" width="6" height="1" fill="#000"/>
<rect x="1435" y="285" width="6" height="1" fill="#000"/>
<rect x="67" y="293" width="6" height="1" fill="#000"/>
<rect x="1435" y="293" width="6" height="1" fill="#000"/>
<rect x="67" y="303" width="6" height="1" fill="#000"/>
<rect x="1435" y="303" width="6" height="1" fill="#000"/>
<rect x="67" y="312" width="6" height="1" fill="#000"/>
<rect x="1435" y="312" width="6" height="1" fill="#000"/>
<rect x="61" y="320" width="12" height="1" fill="#000"/>
<rect x="1435" y="320" width="12" height="1" fill="#000"/>
<rect x="67" y="329" width="6" height="1" fill="#000"/>
<rect x="1435" y="329" width="6" height="1" fill="#000"/>
<rect x="67" y="338" width="6" height="1" fill="#000"/>
<rect x="1435" y="338" width="6" height="1" fill="#000"/>
<rect x="67" y="347" width="6" height="1" fill="#000"/>
<rect x="1435" y="347" width="6" height="1" fill="#000"/>
<rect x="67" y="355" width="6" height="1" fill="#000"/>
<rect x="1435" y="355" width="6" height="1" fill="#000"/>
<rect x="61" y="364" width="12" height="1" fill="#000"/>
<rect x="1435" y="364" width="12" height="1" fill="#000"/>
<rect x="67" y="374" width="6" height="1" fill="#000"/>
<rect x="1435" y="374" width="6" height="1" fill="#000"/>
<rect x="67" y="383" width="6" height="1" fill="#000"/>
<rect x="1435" y="383" width="6" height="1" fill="#000"/>
<rect x="67" y="391" width="6" height="1" fill="#000"/>
<rect x="1435" y="391" width="6" height="1" fill="#000"/>
<rect x="67" y="400" width="6" height="1" fill="#000"/>
<rect x="1435" y="400" width="6" height="1" fill="#000"/>
<rect x="61" y="410" width="12" height="1" fill="#000"/>
<rect x="1435" y="410" width="12" height="1" fill="#000"/>
<rect x="67" y="418" width="6" height="1" fill="#000"/>
<rect x="1435" y="418" width="6" height="1" fill="#000"/>
<rect x="67" y="427" width="6" height="1" fill="#000"/>
<rect x="1435" y="427" width="6" height="1" fill="#000"/>
<rect x="67" y="436" width="6" height="1" fill="#000"/>
<rect x="1435" y="436" width="6" height="1" fill="#000"/>
<rect x="67" y="446" width="6" height="1" fill="#000"/>
<rect x="1435" y="446" width="6" height="1" fill="#000"/>
<rect x="61" y="454" width="12" height="1" fill="#000"/>
<rect x="1435" y="454" width="12" height="1" fill="#000"/>
<rect x="67" y="463" width="6" height="1" fill="#000"/>
<rect x="1435" y="463" width="6" height="1" fill="#000"/>
<rect x="67" y="471" width="6" height="1" fill="#000"/>
<rect x="1435" y="471" width="6" height="1" fill="#000"/>
<rect x="67" y="481" width="6" height="1" fill="#000"/>
<rect x="1435" y="481" width="6" height="1" fill="#000"/>
<rect x="67" y="489" width="6" height="1" fill="#000"/>
<rect x="1435" y="489" width="6" height="1" fill="#000"/>
<rect x="61" y="498" width="12" height="1" fill="#000"/>
<rect x="1435" y="498" width="12" height="1" fill="#000"/>
<rect x="67" y="507" width="6" height="1" fill="#000"/>
<rect x="1435" y="507" width="6" height="1" fill="#000"/>
<rect x="67" y="516" width="6" height="1" fill="#000"/>
<rect x="1435" y="516" width="6" height="1" fill="#000"/>
<rect x="67" y="525" width="6" height="1" fill="#000"/>
<rect x="1435" y="525" width="6" height="1" fill="#000"/>
<rect x="67" y="534" width="6" height="1" fill="#000"/>
<rect x="1435" y="534" width="6" height="1" fill="#000"/>
<rect x="61" y="542" width="12" height="1" fill="#000"/>
<rect x="1435" y="542" width="12" height="1" fill="#000"/>
<rect x="67" y="552" width="6" height="1" fill="#000"/>
<rect x="1435" y="552" width="6" height="1" fill="#000"/>
<rect x="67" y="560" width="6" height="1" fill="#000"/>
<rect x="1435" y="560" width="6" height="1" fill="#000"/>
<rect x="67" y="569" width="6" height="1" fill="#000"/>
<rect x="1435" y="569" width="6" height="1" fill="#000"/>
<rect x="67" y="578" width="6" height="1" fill="#000"/>
<rect x="1435" y="578" width="6" height="1" fill="#000"/>
<rect x="61" y="588" width="12" height="1" fill="#000"/>
<rect x="1435" y="588" width="12" height="1" fill="#000"/>
<rect x="67" y="596" width="6" height="1" fill="#000"/>
<rect x="1435" y="596" width="6" height="1" fill="#000"/>
<rect x="67" y="605" width="6" height="1" fill="#000"/>
<rect x="1435" y="605" width="6" height="1" fill="#000"/>
<rect x="67" y="614" width="6" height="1" fill="#000"/>
<rect x="1435" y="614" width="6" height="1" fill="#000"/>
<rect x="67" y="623" width="6" height="1" fill="#000"/>
<rect x="1435" y="623" width="6" height="1" fill="#000"/>
<rect x="61" y="632" width="12" height="1" fill="#000"/>
<rect x="1435" y="632" width="12" height="1" fill="#000"/>
<rect x="67" y="641" width="6" height="1" fill="#000"/>
<rect x="1435" y="641" width="6" height="1" fill="#000"/>
<rect x="67" y="649" width="6" height="1" fill="#000"/>
<rect x="1435" y="649" width="6" height="1" fill="#000"/>
<text x="5.6" y="638.5" letter-spacing="0.8">19000</text>
<text x="1451.6" y="638.5" letter-spacing="0.8">19000</text>
<text x="5.6" y="594.5" letter-spacing="0.8">19500</text>
<text x="1451.6" y="594.5" letter-spacing="0.8">19500</text>
<text x="5.6" y="548.5" letter-spacing="0.8">20000</text>
<text x="1451.6" y="548.5" letter-spacing="0.8">20000</text>
<text x="5.6" y="504.5" letter-spacing="0.8">20500</text>
<text x="1451.6" y="504.5" letter-spacing="0.8">20500</text>
<text x="5.6" y="460.5" letter-spacing="0.8">21000</text>
<text x="1451.6" y="460.5" letter-spacing="0.8">21000</text>
<text x="5.6" y="416.5" letter-spacing="0.8">21500</text>
<text x="1451.6" y="416.5" letter-spacing="0.8">21500</text>
<text x="5.6" y="370.5" letter-spacing="0.8">22000</text>
<text x="1451.6" y="370.5" letter-spacing="0.8">22000</text>
<text x="5.6" y="326.5" letter-spacing="0.8">22500</text>
<text x="1451.6" y="326.5" letter-spacing="0.8">22500</text>
<text x="5.6" y="282.5" letter-spacing="0.8">23000</text>
<text x="1451.6" y="282.5" letter-spacing="0.8">23000</text>
<text x="5.6" y="237.5" letter-spacing="0.8">23500</text>
<text x="1451.6" y="237.5" letter-spacing="0.8">23500</text>
<text x="5.6" y="192.5" letter-spacing="0.8">24000</text>
<text x="1451.6" y="192.5" letter-spacing="0.8">24000</text>
<text x="5.6" y="148.5" letter-spacing="0.8">24500</text>
<text x="1451.6" y="148.5" letter-spacing="0.8">24500</text>
<text x="5.6" y="104.5" letter-spacing="0.8">25000</text>
<text x="1451.6" y="104.5" letter-spacing="0.8">25000</text>
<text x="5.6" y="60.5" letter-spacing="0.8">25500</text>
<text x="1451.6" y="60.5" letter-spacing="0.8">25500</text>
<rect x="90" y="652" width="1" height="8" fill="#000"/>
<rect x="111" y="652" width="1" height="8" fill="#000"/>
<rect x="133" y="652" width="1" height="8" fill="#000"/>
<rect x="153" y="652" width="1" height="8" fill="#000"/>
<rect x="178" y="652" width="1" height="8" fill="#000"/>
<rect x="205" y="652" width="1" height="8" fill="#000"/>
<rect x="231" y="652" width="1" height="8" fill="#000"/>
<rect x="284" y="652" width="1" height="8" fill="#000"/>
<rect x="309" y="652" width="1" height="8" fill="#000"/>
<rect x="335" y="652" width="1" height="8" fill="#000"/>
<rect x="361" y="652" width="1" height="8" fill="#000"/>
<rect x="388" y="652" width="1" height="8" fill="#000"/>
<rect x="414" y="652" width="1" height="8" fill="#000"/>
<rect x="439" y="652" width="1" height="8" fill="#000"/>
<rect x="466" y="652" width="1" height="8" fill="#000"/>
<rect x="492" y="652" width="1" height="8" fill="#000"/>
<rect x="518" y="652" width="1" height="8" fill="#000"/>
<rect x="545" y="652" width="1" height="8" fill="#000"/>
<rect x="570" y="652" width="1" height="8" fill="#000"/>
<rect x="622" y="652" width="1" height="8" fill="#000"/>
<rect x="649" y="652" width="1" height="8" fill="#000"/>
<rect x="675" y="652" width="1" height="8" fill="#000"/>
<rect x="700" y="652" width="1" height="8" fill="#000"/>
<rect x="727" y="652" width="1" height="8" fill="#000"/>
<rect x="753" y="652" width="1" height="8" fill="#000"/>
<rect x="779" y="652" width="1" height="8" fill="#000"/>
<rect x="806" y="652" width="1" height="8" fill="#000"/>
<rect x="857" y="652" width="1" height="8" fill="#000"/>
<rect x="878" y="652" width="1" height="8" fill="#000"/>
<rect x="904" y="652" width="1" height="8" fill="#000"/>
<rect x="957" y="652" width="1" height="8" fill="#000"/>
<rect x="983" y="652" width="1" height="8" fill="#000"/>
<rect x="1008" y="652" width="1" height="8" fill="#000"/>
<rect x="1020" y="652" width="1" height="8" fill="#000"/>
<rect x="1034" y="652" width="1" height="8" fill="#000"/>
<rect x="1061" y="652" width="1" height="8" fill="#000"/>
<rect x="1087" y="652" width="1" height="8" fill="#000"/>
<rect x="1112" y="652" width="1" height="8" fill="#000"/>
<rect x="1165" y="652" width="1" height="8" fill="#000"/>
<rect x="1191" y="652" width="1" height="8" fill="#000"/>
<rect x="1218" y="652" width="1" height="8" fill="#000"/>
<rect x="1269" y="652" width="1" height="8" fill="#000"/>
<rect x="1295" y="652" width="1" height="8" fill="#000"/>
<rect x="1322" y="652" width="1" height="8" fill="#000"/>
<rect x="1348" y="652" width="1" height="8" fill="#000"/>
<rect x="1369" y="652" width="1" height="8" fill="#000"/>
<rect x="1389" y="652" width="1" height="8" fill="#000"/>
<rect x="1416" y="652" width="1" height="8" fill="#000"/>
<rect x="147" y="652" width="1" height="27" fill="#000"/>
<rect x="257" y="652" width="1" height="27" fill="#000"/>
<rect x="366" y="652" width="1" height="27" fill="#000"/>
<rect x="486" y="652" width="1" height="27" fill="#000"/>
<rect x="596" y="652" width="1" height="27" fill="#000"/>
<rect x="712" y="652" width="1" height="27" fill="#000"/>
<rect x="831" y="652" width="1" height="27" fill="#000"/>
<rect x="930" y="652" width="1" height="27" fill="#000"/>
<rect x="1030" y="652" width="1" height="27" fill="#000"/>
<rect x="1139" y="652" width="1" height="27" fill="#000"/>
<rect x="1244" y="652" width="1" height="27" fill="#000"/>
<rect x="1358" y="652" width="1" height="27" fill="#000"/>
<text x="72.8" y="674" letter-spacing="0.5">il</text>
<text x="149.4" y="674" letter-spacing="0.15">May</text>
<text x="260.6" y="674" letter-spacing="-0.03">June</text>
<text x="370" y="674" letter-spacing="0.3">July</text>
<text x="489" y="674" letter-spacing="0.3">August</text>
<text x="598.1" y="674" letter-spacing="0.58">September</text>
<text x="714.5" y="674" letter-spacing="0.12">October</text>
<text x="833.4" y="674" letter-spacing="0.54">November</text>
<text x="933" y="674" letter-spacing="0.64">December</text>
<text x="1032.3" y="674" letter-spacing="0.23">2026</text>
<text x="1142" y="674" letter-spacing="0.41">February</text>
<text x="1245.4" y="674" letter-spacing="0.17">March</text>
<text x="1361" y="674" letter-spacing="-0.1">April</text>
<text x="511.0" y="21.5" letter-spacing="-0.73">DAXX</text>
<text x="558" y="21.5" letter-spacing="0.3">(24,021.81,</text>
<text x="650" y="21.5" letter-spacing="0.42">24,163.91,</text>
<text x="737.2" y="21.5" letter-spacing="0.48">23,875.79,</text>
<text x="824.5" y="21.5" letter-spacing="0.38">24,080.63,</text>
<text x="912.5" y="21.5" letter-spacing="0.21">+1,159.04)</text>
</svg></body></html>
